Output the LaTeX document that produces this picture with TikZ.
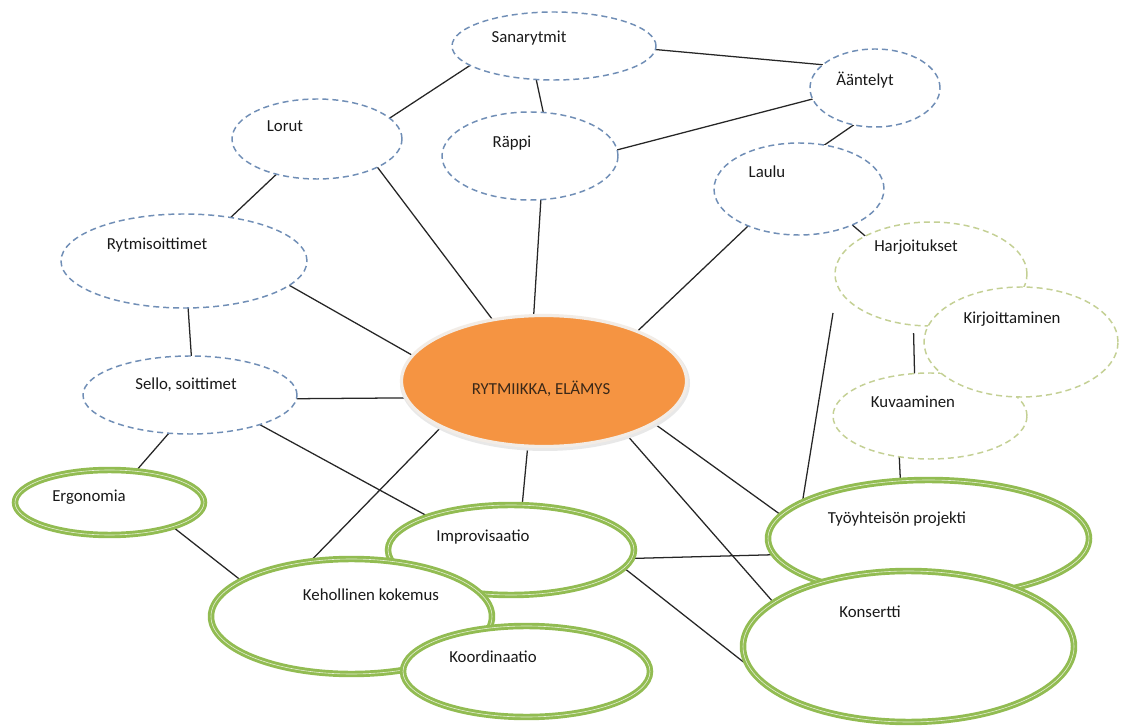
\documentclass[tikz,border=0pt]{standalone}
\usepackage{fontspec}
\setmainfont{Carlito}
\usetikzlibrary{shapes.geometric,backgrounds}
\definecolor{dblue}{RGB}{112,142,182}
\definecolor{dgreen}{RGB}{196,208,148}
\definecolor{tgreen}{RGB}{146,188,82}
\definecolor{orng}{RGB}{245,148,66}
\definecolor{rim}{RGB}{242,236,230}
\definecolor{txt}{RGB}{25,25,25}
\definecolor{ctxt}{RGB}{58,40,24}
\begin{document}
\begin{tikzpicture}[x=0.75pt,y=-0.75pt,
  ell/.style={ellipse, inner sep=0pt, outer sep=0pt, fill=white},
  sz/.style 2 args={minimum width={#1*0.75pt}, minimum height={#2*0.75pt}},
  blueell/.style={ell, draw=dblue, line width=1.1pt, dash pattern=on 4.5pt off 3pt},
  greendash/.style={ell, draw=dgreen, line width=1.1pt, dash pattern=on 4.5pt off 3pt},
  greenell/.style={ell, draw=tgreen, line width=2.2pt, double=tgreen!25!white, double distance=0.45pt},
  lbl/.style={font=\fontsize{12.6}{15}\selectfont, text=txt, inner sep=0pt, anchor=base},
  conn/.style={draw=black!85, line width=0.95pt}]
\useasboundingbox (0,0) rectangle (1122,727);

% top dashed group
\node[blueell, sz={204}{68}] (sana) at (554,46) {};
\node[blueell, sz={130}{78}] (aan) at (875,88) {};
\node[blueell, sz={176}{88}] (rap) at (530,156) {};
\node[blueell, sz={170}{80}] (lorut) at (317,139) {};
\node[blueell, sz={170}{92}] (laulu) at (799,189) {};
\node[blueell, sz={246}{94}] (rytmi) at (184,261) {};
\node[blueell, sz={214}{78}] (sello) at (190,395) {};

% right dashed green group
\node[greendash, sz={192}{104}] (harj) at (931,274) {};
\node[greendash, sz={194}{86}] (kuva) at (930,416) {};
\node[greendash, sz={194}{110}] (kirj) at (1021,342) {};

% central
\node[ell, sz={290}{136}, fill=black!9] (cshadow) at (545,383) {};
\node[ell, sz={285}{131}, fill=orng, draw=rim, line width=2.4pt] (central) at (544,381) {};

% green solid group
\node[greenell, sz={189}{65}] (ergo) at (109.5,502.5) {};
\node[greenell, sz={246}{90}] (impro) at (511,550) {};
\node[greenell, sz={281}{115}] (keho) at (351.5,616.5) {};
\node[greenell, sz={247}{91}] (koord) at (526.5,671.5) {};
\node[greenell, sz={321}{117}] (tyo) at (928.5,538.5) {};
\node[greenell, sz={331}{151}] (kons) at (908.5,646.5) {};

\coordinate (hfree) at (833,313);

% labels
\node[lbl] (tsana) at (529,43) {Sanarytmit};
\node[lbl] (taan) at (865,86) {Ääntelyt};
\node[lbl] (trap) at (512,148) {Räppi};
\node[lbl] (tlorut) at (285,132) {Lorut};
\node[lbl] (tlaulu) at (767,178) {Laulu};
\node[lbl] (trytmi) at (157,250) {Rytmisoittimet};
\node[lbl] (tsello) at (186,390) {Sello, soittimet};
\node[lbl, text=ctxt] (tcentral) at (541,395) {RYTMIIKKA, ELÄMYS};
\node[lbl] (tharj) at (916,252) {Harjoitukset};
\node[lbl] (tkirj) at (1012,324) {Kirjoittaminen};
\node[lbl] (tkuva) at (913,408) {Kuvaaminen};
\node[lbl] (tergo) at (89,502) {Ergonomia};
\node[lbl] (timpro) at (483,541) {Improvisaatio};
\node[lbl] (tkeho) at (371,600) {Kehollinen kokemus};
\node[lbl] (tkoord) at (493,662) {Koordinaatio};
\node[lbl] (ttyo) at (897,523) {Työyhteisön projekti};
\node[lbl] (tkons) at (870,617) {Konsertti};

\begin{pgfonlayer}{background}
\fill[white] (0,0) rectangle (1122,727);
\draw[conn] (sana.193.6) -- (lorut.16.8);
\draw[conn] (sana.242) -- (rap.73);
\draw[conn] (sana.-2) -- (aan.156);
\draw[conn] (rap.4) -- (aan.190);
\draw[conn] (aan.240.6) -- (laulu.60.5);
\draw[conn] (lorut.221.6) -- (rytmi.43.2);
\draw[conn] (lorut.-25.8) -- (central.130.9);
\draw[conn] (rap.-76) -- (central.99.2);
\draw[conn] (laulu.216.7) -- (central.28);
\draw[conn] (laulu.-34.4) -- (harj.150.6);
\draw[conn] (rytmi.-13.5) -- (central.169);
\draw[conn] (rytmi.-85) -- (sello.88);
\draw[conn] (sello.-2.7) -- (central.187.1);
\draw[conn] (sello.241.7) -- (ergo.50.4);
\draw[conn] (sello.-23.3) -- (impro.158.4);
\draw[conn] (ergo.-21.4) -- (keho.162.2);
\draw[conn] (central.204.1) -- (keho.127.7);
\draw[conn] (central.256) -- (impro.76.3);
\draw[conn] (central.-21.5) -- (tyo.171.8);
\draw[conn] (central.-33.9) -- (kons.162.4);
\draw[conn] (impro.-4.2) -- (tyo.186.2);
\draw[conn] (impro.-9.1) -- (kons.187.6);
\draw[conn] (hfree) -- (tyo.164.1);
\draw[conn, shorten <=6pt] (harj.251.6) -- (kuva.110.7);
\draw[conn] (kuva.233.6) -- (tyo.116);
\end{pgfonlayer}
\end{tikzpicture}
\end{document}
